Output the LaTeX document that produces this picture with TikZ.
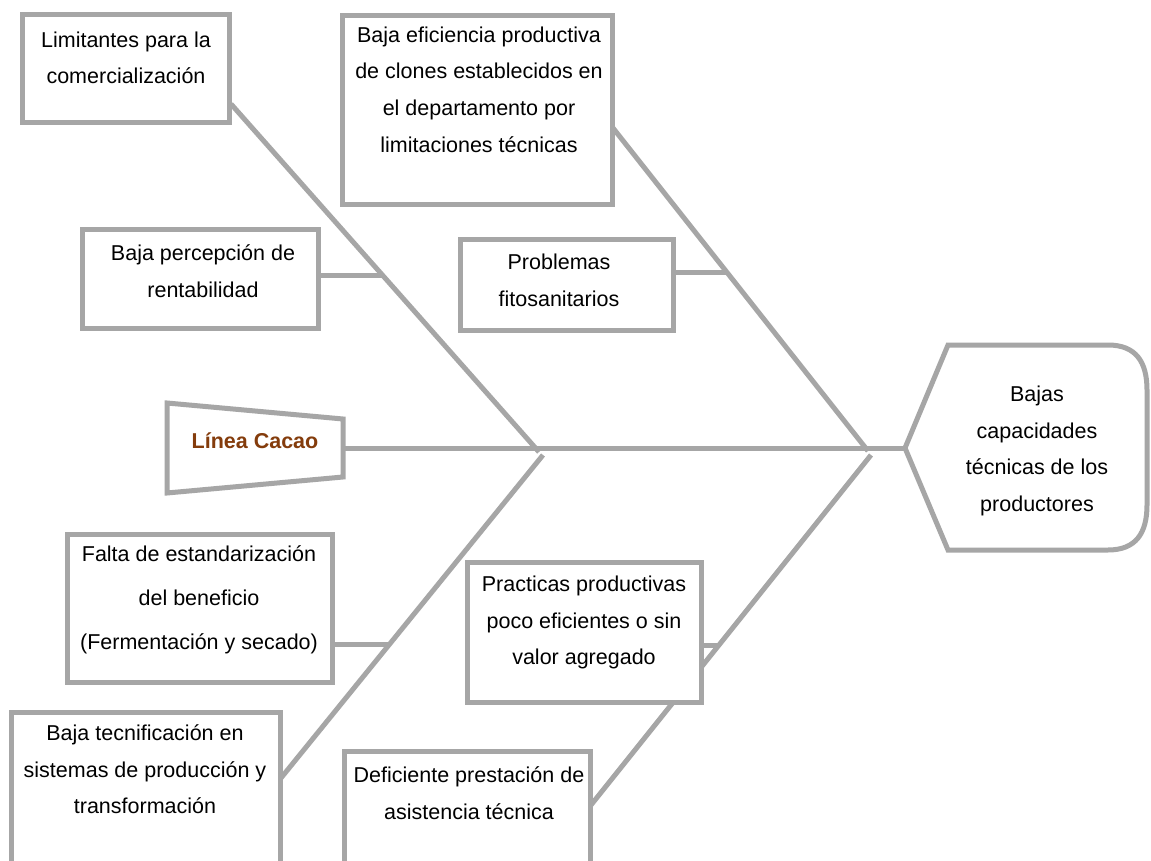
\documentclass[tikz,border=0pt]{standalone}
\usepackage{fontspec}
\setmainfont{Liberation Sans}
\definecolor{bonegray}{HTML}{A6A6A6}
\definecolor{cacaobrown}{HTML}{843C0C}
\newcommand{\sr}{\rule{0pt}{20pt}}
\tikzset{
  bonestyle/.style={draw=bonegray, line width=5pt},
  boxstyle/.style={draw=bonegray, line width=5pt, fill=white, inner sep=0pt, outer sep=0pt},
  txt/.style={inner sep=0pt, align=center, anchor=north, text=black,
              font=\fontsize{21.5}{36.8}\selectfont},
}
\begin{document}
\begin{tikzpicture}[x=1pt,y=-1pt]
\clip (0,0) rectangle (1151,861);
\fill[white] (0,0) rectangle (1151,861);

% junction and end coordinates
\coordinate (jL1) at (539,452);
\coordinate (jL2) at (543,455);
\coordinate (jR1) at (868,451);
\coordinate (jR2) at (871,455);
\coordinate (headtip) at (905,448);
\coordinate (cacR) at (343,448);
\coordinate (limC) at (231,104);
\coordinate (effC) at (613,128);
\coordinate (tecC) at (281,778);
\coordinate (defC) at (591,805);
\coordinate (s1) at (382,275);
\coordinate (s2) at (727,272);
\coordinate (s3) at (390,644);
\coordinate (s4) at (719,645);

% boxes (shapes only, drawn later over the bones)
\path[boxstyle,draw=none,fill=none]
  node[minimum width=207pt, minimum height=108pt] (lim) at (125.5,69) {}
  node[minimum width=270pt, minimum height=189pt] (eff) at (477.5,110) {}
  node[minimum width=235.5pt, minimum height=98.5pt] (perc) at (200.25,278.75) {}
  node[minimum width=212.5pt, minimum height=90.5pt] (prob) at (566.75,284.75) {}
  node[minimum width=264.5pt, minimum height=148pt] (falta) at (199.75,608.5) {}
  node[minimum width=233.5pt, minimum height=140pt] (prac) at (584.25,632.5) {}
  node[minimum width=269pt, minimum height=187.5pt] (tec) at (145.5,806.25) {}
  node[minimum width=246pt, minimum height=148.5pt] (def) at (467.5,825.75) {};

% spine and bones
\draw[bonestyle] (cacR) -- (headtip);
\draw[bonestyle] (limC) -- (jL1);
\draw[bonestyle] (jL2) -- (tecC);
\draw[bonestyle] (effC) -- (jR1);
\draw[bonestyle] (jR2) -- (defC);
\draw[bonestyle] (perc.east |- s1) -- (s1);
\draw[bonestyle] (prob.east |- s2) -- (s2);
\draw[bonestyle] (falta.east |- s3) -- (s3);
\draw[bonestyle] (prac.east |- s4) -- (s4);

% visible boxes
\foreach \b in {lim,eff,perc,prob,falta,prac,tec,def}{
  \draw[bonestyle, fill=white] (\b.north west) rectangle (\b.south east);
}

% tail (Linea Cacao)
\draw[bonestyle, fill=white, line join=miter] (167,403) -- (343,419) -- (343,477) -- (167,493) -- cycle;
\node[inner sep=0pt, anchor=base, text=cacaobrown, font=\fontsize{21.5}{26}\selectfont\bfseries] (cacao) at (255,448) {Línea Cacao};

% head
\draw[bonestyle, fill=white] (headtip) -- (948,345) -- (1108,345)
  .. controls (1136,345) and (1147,362) .. (1147,390) -- (1147,505)
  .. controls (1147,533) and (1136,550) .. (1108,550) -- (948,550) -- cycle;
\node[txt] (head) at (1037,381) {\sr Bajas\\capacidades\\técnicas de los\\productores};

% texts
\node[txt] (limT) at (126,27) {\sr Limitantes para la\\comercialización};
\node[txt] (effT) at (479,22) {\sr Baja eficiencia productiva\\de clones establecidos en\\el departamento por\\limitaciones técnicas};
\node[txt] (percT) at (203,240) {\sr Baja percepción de\\rentabilidad};
\node[txt] (probT) at (559,249) {\sr Problemas\\fitosanitarios};
\node[txt, font=\fontsize{21.5}{44}\selectfont] (faltaT) at (199,541) {\sr Falta de estandarización\\del beneficio\\(Fermentación y secado)};
\node[txt] (pracT) at (584,571) {\sr Practicas productivas\\poco eficientes o sin\\valor agregado};
\node[txt] (tecT) at (145,720) {\sr Baja tecnificación en\\sistemas de producción y\\transformación};
\node[txt] (defT) at (469,762) {\sr Deficiente prestación de\\asistencia técnica};
\end{tikzpicture}
\end{document}
